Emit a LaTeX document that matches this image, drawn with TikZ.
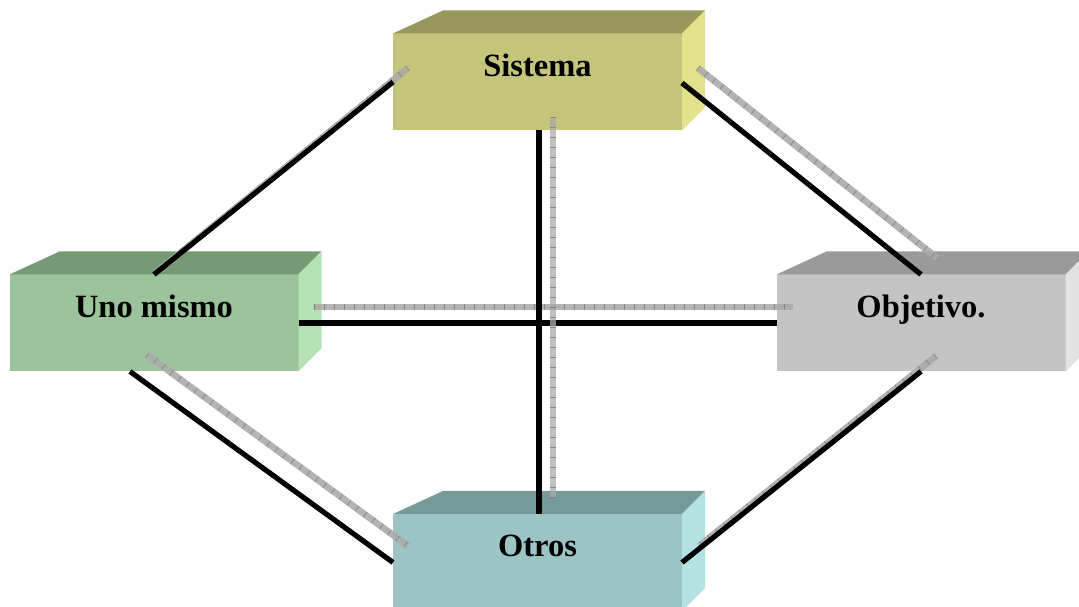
\documentclass[tikz,border=0pt]{standalone}
\usepackage{fontspec}
\setmainfont{Liberation Serif}
\begin{document}
\begin{tikzpicture}[x=1pt,y=1pt,
  front/.style={draw=none,minimum width=289pt,minimum height=97pt,inner sep=0pt,outer sep=0pt},
  lbl/.style={anchor=base,inner sep=0pt,font=\fontsize{32.5}{38}\selectfont\bfseries},
  link/.style={line width=5.2pt,black},
  tie/.style={line width=6.6pt,draw=black!33,opacity=0.9,
    postaction={draw=black!52,line width=6.2pt,dash pattern=on 0.7pt off 9.3pt,opacity=0.8}},
]
\useasboundingbox (0,0) rectangle (1079,607);
\clip (0,0) rectangle (1079,607);

% colours of the three visible faces of each block
\definecolor{sisF}{RGB}{196,196,122}\definecolor{sisT}{RGB}{151,151,91}\definecolor{sisR}{RGB}{226,226,138}
\definecolor{unoF}{RGB}{156,196,156}\definecolor{unoT}{RGB}{118,154,118}\definecolor{unoR}{RGB}{180,226,180}
\definecolor{objF}{RGB}{196,196,196}\definecolor{objT}{RGB}{154,154,154}\definecolor{objR}{RGB}{226,226,226}
\definecolor{otrF}{RGB}{156,196,196}\definecolor{otrT}{RGB}{118,154,154}\definecolor{otrR}{RGB}{180,226,226}

% a block: front face node plus top and right faces
\newcommand{\block}[5]{%
  \node[front,fill=#2F] (#1) at (#3,#4) {};
  \fill[#2T] (#1.north west) -- (#1.north east) -- ([xshift=23,yshift=23]#1.north east)
     -- ([xshift=50,yshift=23]#1.north west) -- cycle;
  \fill[#2R] (#1.north east) -- ([xshift=23,yshift=23]#1.north east)
     -- ([xshift=23,yshift=23]#1.south east) -- (#1.south east) -- cycle;
  \node[lbl] (#1-t) at ([yshift=5.5]#1.center) {#5};
}

\block{sis}{sis}{537.5}{525}{Sistema}
\block{uno}{uno}{154}{284}{Uno mismo}
\block{obj}{obj}{921}{284}{Objetivo.}
\block{otr}{otr}{537.5}{44.5}{Otros}

% end points of the grey ties
\coordinate (g-sis-uno) at ([xshift=15,yshift=14]sis.west);
\coordinate (g-uno-sis) at ([xshift=2,yshift=2]uno.north);
\coordinate (g-sis-obj) at ([xshift=16,yshift=14]sis.east);
\coordinate (g-obj-sis) at ([xshift=16,yshift=16.5]obj.north);
\coordinate (g-uno-otr) at ([xshift=-7,yshift=16.5]uno.south);
\coordinate (g-otr-uno) at ([xshift=15,yshift=16.5]otr.west);
\coordinate (g-obj-otr) at ([xshift=15,yshift=15.5]obj.south);
\coordinate (g-otr-obj) at ([xshift=17,yshift=16.5]otr.east);
\coordinate (g-sis-otr) at ([xshift=15.5,yshift=13.5]sis.south);
\coordinate (g-otr-sis) at ([xshift=15.5,yshift=15.5]otr.north);
\coordinate (g-uno-obj) at ([xshift=15,yshift=16]uno.east);
\coordinate (g-obj-uno) at ([xshift=16,yshift=16]obj.west);

% end points of the black links
\coordinate (b-uno-otr) at ([xshift=-24]uno.south);
\coordinate (b-sis-otr) at ([xshift=1.5]sis.south);
\coordinate (b-otr-sis) at ([xshift=1.5]otr.north);

% grey ties (behind the black links)
\draw[tie] (g-sis-uno) -- (g-uno-sis);
\draw[tie] (g-sis-obj) -- (g-obj-sis);
\draw[tie] (g-uno-otr) -- (g-otr-uno);
\draw[tie] (g-obj-otr) -- (g-otr-obj);
\draw[tie] (g-uno-obj) -- (g-obj-uno);

% black links
\draw[link] (uno.north) -- (sis.west);
\draw[link] ([yshift=-1]sis.east) -- (obj.north);
\draw[link] (b-uno-otr) -- (otr.west);
\draw[link] (obj.south) -- (otr.east);
\draw[link] (b-sis-otr) -- (b-otr-sis);
\draw[link] (uno.east) -- (obj.west);

% vertical grey tie crosses over the horizontal link
\draw[tie,opacity=0.75] (g-sis-otr) -- (g-otr-sis);
\end{tikzpicture}
\end{document}
